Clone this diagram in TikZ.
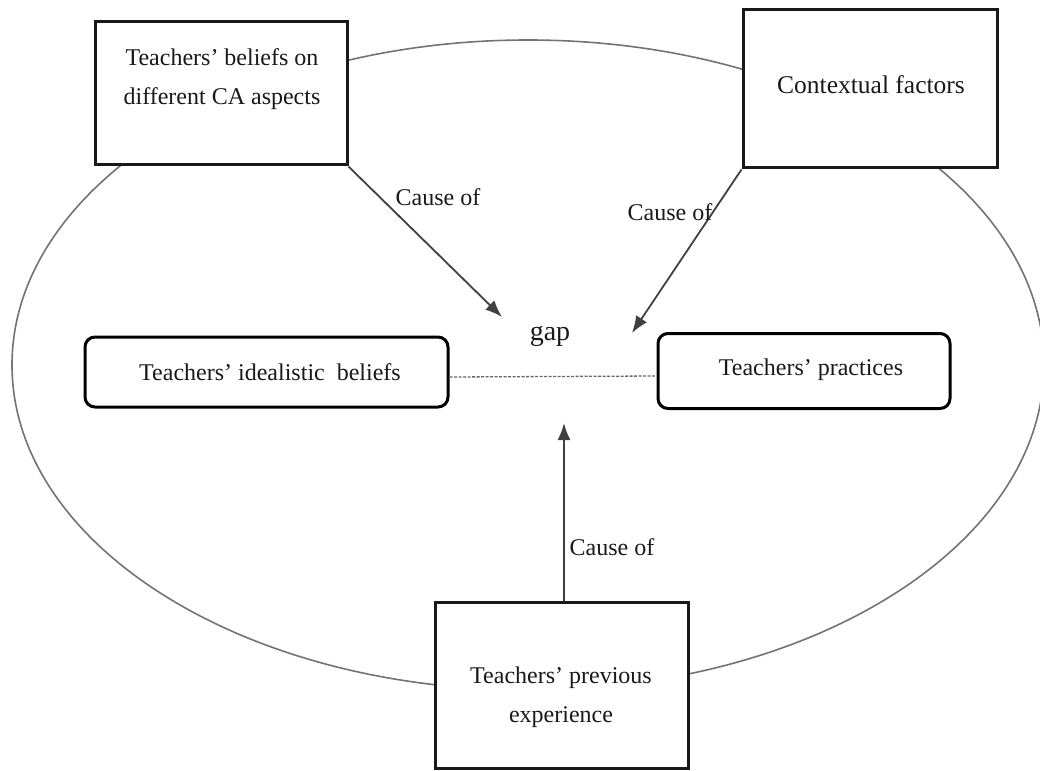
\documentclass[tikz,border=0pt]{standalone}
\usepackage{fontspec}
\setmainfont{Liberation Serif}
\usetikzlibrary{arrows.meta}
\begin{document}
\begin{tikzpicture}[x=1pt,y=-1pt,
  sqbox/.style={draw=black!90, line width=3pt, fill=white, inner sep=0pt},
  rbox/.style={draw=black, line width=3pt, rounded corners=10pt, fill=white, inner sep=0pt},
  lbl/.style={font=\fontsize{24}{39}\selectfont, align=center, inner sep=0pt, text=black!90},
  conn/.style={draw=black!75, line width=1.8pt, -{Latex[length=17pt,width=13pt]}},
  ring/.style={draw=black!55, line width=1.6pt},
  gapline/.style={draw=black!60, line width=1.3pt, dash pattern=on 3pt off 1.5pt}]
\useasboundingbox (0,0) rectangle (1040,770);
\draw[ring] (528,365) ellipse [x radius=516pt, y radius=325pt];
% boxes
\node[sqbox, minimum width=252pt, minimum height=143pt] (b1) at (221,93.5) {};
\node[sqbox, minimum width=254pt, minimum height=158pt] (b2) at (870,89) {};
\node[sqbox, minimum width=253pt, minimum height=166pt] (b3) at (561.5,685) {};
\node[rbox, minimum width=363pt, minimum height=70pt] (lb) at (266.5,372) {};
\node[rbox, minimum width=292pt, minimum height=75pt] (rb) at (804,371) {};
% texts
\node[lbl] (t1txt) at (222,79) {Teachers' beliefs on\\different CA aspects};
\node[lbl, font=\fontsize{25.5}{39}\selectfont] (t2txt) at (871,85) {Contextual factors};
\node[lbl] (t3txt) at (561,697) {Teachers' previous\\experience};
\node[lbl] (lbtxt) at (270,372) {Teachers' idealistic\ \ beliefs};
\node[lbl] (rbtxt) at (811,370) {Teachers' practices};
\node[lbl, font=\fontsize{28}{34}\selectfont] (gap) at (550,336) {gap};
% connectors
\coordinate (a1) at (502,317);
\coordinate (a2) at (632,333);
\coordinate (a3) at (564,423);
\draw[conn] (b1.south east) -- (a1);
\draw[conn] (b2.south west) -- (a2);
\draw[conn] (b3.north -| a3) -- (a3);
\draw[gapline] ([yshift=-5pt]lb.east) -- ([yshift=-5pt]rb.west);
% labels
\node[lbl] (c1) at (438,197) {Cause of};
\node[lbl] (c2) at (670,212) {Cause of};
\node[lbl] (c3) at (612,547) {Cause of};
\end{tikzpicture}
\end{document}
